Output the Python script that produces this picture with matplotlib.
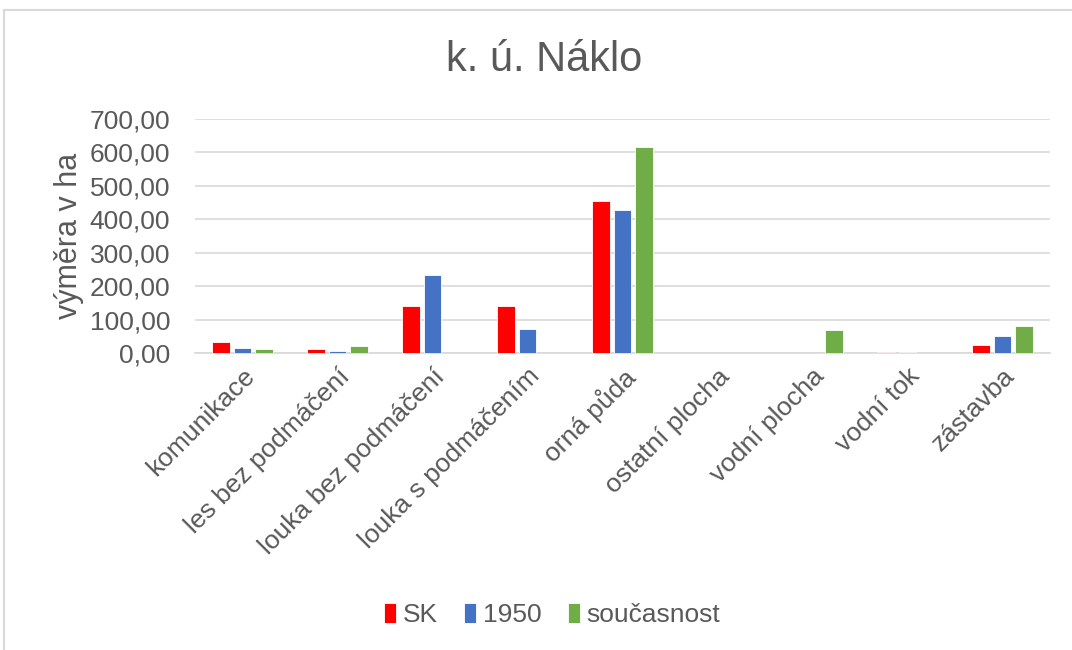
import matplotlib.pyplot as plt
import numpy as np
from matplotlib.ticker import FuncFormatter

plt.rcParams['font.family'] = ['Liberation Sans', 'DejaVu Sans']

categories = ['komunikace', 'les bez podmáčení', 'louka bez podmáčení',
              'louka s podmáčením', 'orná půda', 'ostatní plocha',
              'vodní plocha', 'vodní tok', 'zástavba']

sk = [34, 12, 140, 140, 454, 0, 0, 3, 23]
y1950 = [14, 5, 234, 73, 428, 0, 0, 2, 52]
soucasnost = [12, 20, 0, 0, 616, 0, 69, 0, 81]

series = [('SK', sk, '#FF0000'),
          ('1950', y1950, '#4472C4'),
          ('současnost', soucasnost, '#70AD47')]

grey = '#595959'

fig = plt.figure(figsize=(10.72, 6.5), dpi=100)
ax = fig.add_axes([195/1072, 1-353/650, (1050-195)/1072, (353-119)/650])

x = np.arange(len(categories))
step = 0.226
width = 0.18
for i, (name, vals, col) in enumerate(series):
    ax.bar(x + (i-1)*step, vals, width, color=col, label=name,
           edgecolor='white', linewidth=0.6, zorder=3)

ax.set_xlim(-0.5, len(categories)-0.5)
ax.set_ylim(0, 700)
ax.set_yticks(np.arange(0, 701, 100))
ax.yaxis.set_major_formatter(FuncFormatter(lambda v, p: f'{v:.2f}'.replace('.', ',')))
ax.grid(axis='y', color='#D9D9D9', linewidth=1.2, zorder=0)
for s in ['top', 'right', 'left']:
    ax.spines[s].set_visible(False)
ax.spines['bottom'].set_color('#D9D9D9')
ax.spines['bottom'].set_linewidth(1.2)
ax.tick_params(axis='both', length=0, labelsize=19, colors=grey)
ax.tick_params(axis='y', pad=18)
ax.tick_params(axis='x', pad=8)
ax.set_xticks(x)
ax.set_xticklabels(categories, rotation=45, ha='right', rotation_mode='anchor')

ax.set_ylabel('výměra v ha', fontsize=22, color=grey, labelpad=4)
fig.text(0.508, 1-60/650, 'k. ú. Náklo', ha='center', va='center', fontsize=30, color=grey)

fig.legend(loc='center', bbox_to_anchor=(0.515, 1-615/650), ncol=3, frameon=False,
           fontsize=19, labelcolor=grey, handlelength=0.45, handleheight=0.8,
           handletextpad=0.25, columnspacing=1.0)

# chart frame
fig.add_artist(plt.Line2D([4/1072, 4/1072], [0, 1-10/650], color='#D9D9D9', lw=1.5, transform=fig.transFigure))
fig.add_artist(plt.Line2D([4/1072, 1], [1-10/650, 1-10/650], color='#D9D9D9', lw=1.5, transform=fig.transFigure))

fig.savefig('out.png', dpi=100)
